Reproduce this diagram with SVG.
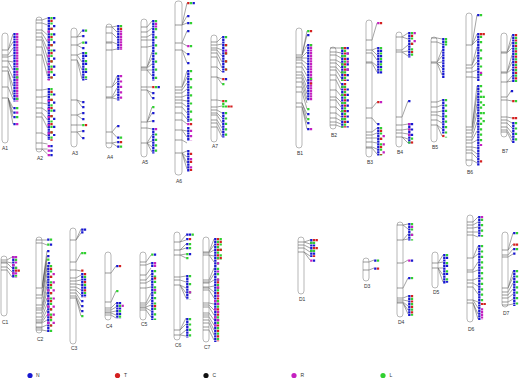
<svg xmlns="http://www.w3.org/2000/svg" width="520" height="379" viewBox="0 0 520 379">
<style>
.rod{fill:#fff;stroke:#9a9a9a;stroke-width:.7}
.bd{fill:none;stroke:#555;stroke-width:.6}
.cn{fill:none;stroke:#333;stroke-width:.45}
.m{fill:none;stroke-width:2.3;stroke-dasharray:2.2 .5}
.m2{fill:none;stroke-width:2.3;stroke-dasharray:2.2 3.2}
.m3{fill:none;stroke-width:2.3;stroke-dasharray:2.2 5.9}
.n{stroke:#1818d0}.t{stroke:#d42020}.r{stroke:#c420c0}.l{stroke:#30d030}
.lb{font-family:"Liberation Sans",Arial,sans-serif;font-size:5px;fill:#333}
.lg{font-family:"Liberation Sans",Arial,sans-serif;font-size:5px;fill:#333}
</style>
<rect width="520" height="379" fill="#fff"/>
<g id="connectors" class="cn">
<path d="M8 50 13 34M8 50 13 42M8 55 13 48M8 57 13 55M8 61 13 62M8 61 13 70M8 67 13 78M8 71 13 86M8 71 13 95M8 87 13 99M8 98 13 108M8 98 13 112.6M8 98 13 117M8 98 13 124"/>
<path d="M42 20 47.5 18M42 23 47.5 25M42 30 47.5 35M42 33 47.5 42M42 37 47.5 50M42 40 47.5 58M42 47 47.5 66M42 55 47.5 76M42 90 47.5 89M42 97 47.5 96M42 103 47.5 104M42 108 47.5 112M42 113 47.5 120M42 117 47.5 128M42 133 47.5 136M42 143 47.5 144M42 149 47.5 149M42 149 47.5 154"/>
<path d="M77 37 82 30.5M77 37 82 36M77 45 82 42.5M77 45 82 48M77 55 82 53M77 55 82 62M77 60 82 70M77 60 82 79M77 100 82 102M77 100 82 107M77 115 82 113M77 115 82 119M77 125 82 125M77 132 82 131M77 132 82 138"/>
<path d="M112 27 117 26M112 27 117 32M112 33 117 38M112 42 117 44M112 50 117 49M112 87 117 76M112 87 117 82M112 97 117 88M112 98 117 94M112 98 117 99M112 132 117 126M112 132 117 137.5M112 143 117 142M112 143 117 146.5"/>
<path d="M147 27 152 21M147 32 152 28M147 37 152 34M147 40 152 40M147 47 152 46M147 67 152 52M147 67 152 58M147 68 152 64M147 70 152 70M147 70 152 76M147 87 152 87M147 90 152 93M147 90 152 98M147 122 152 107M147 122 152 113M147 122 152 121M147 128 152 129M147 143 152 135M147 143 152 141M147 143 152 147M147 143 152 152"/>
<path d="M182 25 187 3M182 25 187 16M182 25 187 23M182 43 187 31M182 43 187 46M182 50 187 54M182 50 187 63M182 87 187 71M182 87 187 77M182 90 187 83M182 93 187 89M182 97 187 95M182 100 187 101M182 103 187 107M182 107 187 113M182 113 187 119M182 120 187 124M182 130 187 131M182 130 187 137M182 140 187 143M182 153 187 151M182 153 187 157M182 153 187 163M182 153 187 169"/>
<path d="M217 42 222 37M217 45 222 44M217 48 222 50M217 50 222 56M217 53 222 62M217 57 222 68M217 67 222 72M217 77 222 79M217 77 222 84M217 100 222 101M217 107 222 106M217 110 222 113M217 113 222 118M217 115 222 123M217 120 222 128M217 123 222 133M217 127 222 137"/>
<path d="M302 55 307 31M302 55 307 35M302 55 307 45M302 57 307 52M302 58 307 58M302 60 307 64M302 63 307 70M302 67 307 76M302 72 307 82M302 75 307 88M302 78 307 94M302 82 307 99M302 87 307 103M302 92 307 109M302 103 307 114M302 103 307 119M302 107 307 123M302 107 307 129"/>
<path d="M336 48 341 48M336 52 341 53M336 55 341 58M336 60 341 63M336 63 341 68M336 67 341 73M336 70 341 78M336 75 341 84M336 80 341 90M336 90 341 96M336 97 341 102M336 100 341 107M336 107 341 112M336 113 341 117M336 118 341 121M336 122 341 124M336 125 341 127"/>
<path d="M372 40 377 23M372 50 377 48M372 50 377 55M372 53 377 60M372 62 377 66M372 63 377 72M372 108 377 102M372 118 377 124M372 132 377 128M372 135 377 133M372 138 377 138M372 142 377 143M372 147 377 149M372 148 377 154"/>
<path d="M402 37 408 33M402 37 408 39M402 50 408 45M402 52 408 51M402 52 408 56M402 117 408 101M402 125 408 124M402 130 408 129M402 133 408 134M402 137 408 139M402 137 408 143"/>
<path d="M437 38 442 39M437 42 442 44M437 62 442 50M437 62 442 56M437 63 442 62M437 63 442 68M437 63 442 75M437 102 442 100M437 107 442 105M437 112 442 111M437 115 442 117M437 120 442 123M437 125 442 129M437 125 442 136"/>
<path d="M472 45 477 15M472 45 477 34M472 45 477 40M472 65 477 47M472 65 477 55M472 68 477 62M472 72 477 70M472 77 477 78M472 127 477 86M472 127 477 95M472 130 477 104M472 133 477 113M472 137 477 122M472 140 477 131M472 143 477 140M472 147 477 148M472 150 477 154M472 153 477 158M472 160 477 163"/>
<path d="M507 52 512 35M507 52 512 42M507 53 512 48M507 72 512 55M507 72 512 62M507 73 512 69M507 82 512 76M507 82 512 81M507 97 511 91M507 100 512 101M507 117 512 118M507 120 512 123M507 123 512 128M507 127 512 133M507 130 512 138M507 132 512 142"/>
<path d="M7 260 12 257M7 262 12 263M7 263 12 268M7 267 12 272M7 270 12 277"/>
<path d="M42 240 47 240M42 243 47 245M42 288 47 251M42 288 47 256M42 288 47 259M42 295 47 263M42 295 47 268M42 298 47 274M42 305 47 280M42 308 47 286M42 310 47 292M42 313 47 298M42 317 47 304M42 320 47 310M42 322 47 315M42 323 47 320M42 327 47 325M42 330 47 331"/>
<path d="M76 240 81 229M76 240 81 233M76 262 81 253M76 270 81 271M76 278 81 275M76 281 81 280M76 284 81 285M76 287 81 290M76 290 81 295M76 293 81 301M76 296 81 306M76 298 81 311M76 298 81 316"/>
<path d="M111 273 116 266M111 302 116 291M111 308 116 303M111 310 116 307M111 312 116 311M111 313 116 315M111 315 116 318"/>
<path d="M146 262 151 255M146 265 151 263M146 275 151 268M146 280 151 274M146 283 151 280M146 288 151 287M146 303 151 293M146 305 151 299M146 307 151 305M146 308 151 311M146 310 151 317"/>
<path d="M180 242 186 235M180 242 186 240M180 250 186 244M180 250 186 248M180 255 186 254M180 255 186 258M180 277 186 276M180 280 186 282M180 285 186 288M180 285 186 293M180 285 186 298M180 330 186 318M180 330 186 324M180 335 186 330M180 335 186 336"/>
<path d="M209 252 214 239M209 252 214 245M209 253 214 250M209 255 214 256M209 255 214 262M209 280 214 268M209 282 214 274M209 283 214 280M209 287 214 286M209 288 214 292M209 290 214 298M209 303 214 304M209 305 214 310M209 307 214 315M209 313 214 320M209 317 214 325M209 320 214 330M209 323 214 335M209 330 214 340"/>
<path d="M304 242 310 240M304 242 310 244M304 245 310 248M304 248 310 252M304 252 310 256M304 252 310 260"/>
<path d="M369 262 374 260M369 270 374 268"/>
<path d="M403 225 408 224M403 225 408 229M403 240 408 234M403 240 408 239M403 263 408 260M403 288 408 278M403 298 408 296M403 300 408 301M403 302 408 306M403 303 408 310M403 303 408 314"/>
<path d="M438 263 443 255M438 263 443 262M438 268 443 268M438 268 443 275M438 268 443 282"/>
<path d="M473 222 478 217M473 225 478 222M473 228 478 227M473 232 478 232M473 235 478 237M473 258 478 246M473 258 478 254M473 270 478 262M473 272 478 270M473 280 478 278M473 283 478 286M473 287 478 294M473 300 478 302M473 300 478 308M473 303 478 314M473 303 478 319"/>
<path d="M508 250 513 233M508 250 513 244M508 255 513 249M508 257 513 254M508 288 513 271M508 288 513 277M508 292 513 283M508 295 513 289M508 298 513 294M508 302 513 299M508 305 513 304"/>
</g>
<g id="A1"><rect class="rod" x="2" y="33" width="6" height="110" rx="3"/>
<path class="bd" d="M2 50h6M2 55h6M2 57h6M2 61h6M2 67h6M2 71h6M2 87h6M2 98h6"/>
<path class="m n" d="M14.5 33v68.5M14.5 107v2.2M14.5 111.5v2.2M14.5 116v2.2M14.5 123v2.2"/>
<path class="m r" d="M17.2 33v68.5M17.2 111.5v2.2M17.2 123v2.2"/>
<path class="m l" d="M17.2 68.1v2.2M17.2 76.2v2.2M17.2 97.8v2.2M17.2 107v2.2M17.2 116v2.2"/>
<text class="lb" x="2" y="150">A1</text></g>
<g id="A2"><rect class="rod" x="36" y="17" width="6" height="135" rx="3"/>
<path class="bd" d="M36 20h6M36 23h6M36 30h6M36 33h6M36 37h6M36 40h6M36 47h6M36 55h6M36 90h6M36 97h6M36 103h6M36 108h6M36 113h6M36 117h6M36 133h6M36 143h6M36 149h6"/>
<path class="m n" d="M48.8 17v63M48.8 88v52M51.5 145v2.2M51.5 149.5v2.2M51.5 154v2.2"/>
<path class="m3 r" d="M48.8 30.5v50M48.8 99.8v40"/>
<path class="m2 l" d="M51.5 17v63M51.5 88v52"/>
<path class="m3 t" d="M51.5 19.7v60M51.5 90.7v50"/>
<path class="m3 n" d="M54.2 17v63M54.2 93.4v45"/>
<path class="m r" d="M48.8 145v2.2M48.8 149.5v2.2M48.8 154v2.2"/>
<text class="lb" x="37" y="160">A2</text></g>
<g id="A3"><rect class="rod" x="71" y="28" width="6" height="119" rx="3"/>
<path class="bd" d="M71 37h6M71 45h6M71 55h6M71 60h6M71 100h6M71 115h6M71 125h6M71 132h6"/>
<path class="m n" d="M83.3 29.5v2.2M83.3 35v2.2M83.3 47v2.2M83.3 52v28.5M83.3 101v2.2M83.3 106v2.2M83.3 112v2.2M83.3 118v2.2M83.3 130v2.2M83.3 137v2.2M86 41.5v2.2"/>
<path class="m l" d="M86 29.5v2.2M83.3 41.5v2.2M83.3 124v2.2"/>
<path class="m3 l" d="M86 52v28.5"/>
<path class="m3 n" d="M86 54.7v25"/>
<path class="m t" d="M86 124v2.2"/>
<text class="lb" x="72" y="155">A3</text></g>
<g id="A4"><rect class="rod" x="106" y="24" width="6" height="124" rx="3"/>
<path class="bd" d="M106 27h6M106 33h6M106 42h6M106 43h6M106 50h6M106 87h6M106 97h6M106 98h6M106 132h6M106 143h6"/>
<path class="m n" d="M118.3 25v25M118.3 75v25.5M118.3 125v2.2M118.3 136.5v2.2M118.3 141v2.2M118.3 145.5v2.2"/>
<path class="m r" d="M121 30.4v19.5"/>
<path class="m l" d="M121 25v2.2M121 136.5v2.2M121 145.5v2.2"/>
<path class="m t" d="M121 27.7v2.2M121 141v2.2"/>
<path class="m2 r" d="M121 75v25.5"/>
<text class="lb" x="107" y="159">A4</text></g>
<g id="A5"><rect class="rod" x="141" y="19" width="6" height="138" rx="3"/>
<path class="bd" d="M141 27h6M141 32h6M141 37h6M141 40h6M141 47h6M141 67h6M141 68h6M141 70h6M141 87h6M141 90h6M141 122h6M141 128h6M141 143h6"/>
<path class="m n" d="M153.3 20v60.5M158.7 86v2.2M153.3 92v2.2M153.3 97v2.2M153.3 112v2.2M153.3 120v2.2M153.3 128v25.5"/>
<path class="m3 l" d="M156 20v60.5"/>
<path class="m r" d="M156 22.7v4.9M156 128v2.2"/>
<path class="m t" d="M153.3 86v2.2"/>
<path class="m l" d="M156 86v2.2M153.3 106v2.2"/>
<path class="m2 l" d="M156 133.4v20"/>
<text class="lb" x="142" y="164">A5</text></g>
<g id="A6"><rect class="rod" x="175" y="1" width="7" height="174" rx="3"/>
<path class="bd" d="M175 25h7M175 43h7M175 50h7M175 87h7M175 90h7M175 93h7M175 97h7M175 100h7M175 103h7M175 107h7M175 113h7M175 120h7M175 130h7M175 140h7M175 153h7"/>
<path class="m n" d="M193.7 2v2.2M188.3 15v2.2M188.3 22v2.2M188.3 30v2.2M188.3 53v2.2M188.3 62v2.2M188.3 70v52M188.3 127v14M188.3 150v22"/>
<path class="m t" d="M188.3 2v2.2M191 123v2.2"/>
<path class="m l" d="M191 2v2.2M191 22v2.2M191 45v2.2"/>
<path class="m r" d="M188.3 45v2.2M188.3 123v2.2"/>
<path class="m3 l" d="M191 70v52"/>
<path class="m2 r" d="M191 129.7v11"/>
<path class="m3 t" d="M191 152.7v20"/>
<path class="m3 r" d="M191 158.1v14"/>
<text class="lb" x="176" y="183">A6</text></g>
<g id="A7"><rect class="rod" x="211" y="35" width="6" height="107" rx="3"/>
<path class="bd" d="M211 42h6M211 45h6M211 48h6M211 50h6M211 53h6M211 57h6M211 67h6M211 77h6M211 100h6M211 107h6M211 110h6M211 113h6M211 115h6M211 120h6M211 123h6M211 127h6"/>
<path class="m n" d="M223.3 36v36.5M226 78v2.2M223.3 112v25.5"/>
<path class="m3 l" d="M226 36v36.5"/>
<path class="m3 t" d="M226 44.1v28"/>
<path class="m r" d="M226 49.5v2.2"/>
<path class="m t" d="M223.3 78v2.2M223.3 100v2.2M228.7 105.4v2.2M231.4 105.4v2.2"/>
<path class="m l" d="M223.3 83v2.2M226 100v2.2M223.3 102.7v5M226 105.4v2.2"/>
<path class="m2 l" d="M226 112v25.5"/>
<text class="lb" x="212" y="148">A7</text></g>
<g id="B1"><rect class="rod" x="296" y="28" width="6" height="120" rx="3"/>
<path class="bd" d="M296 55h6M296 57h6M296 58h6M296 60h6M296 63h6M296 67h6M296 72h6M296 75h6M296 78h6M296 82h6M296 87h6M296 92h6M296 103h6M296 107h6"/>
<path class="m n" d="M308.3 34v2.2M308.3 44v56.5M308.3 113v2.2M308.3 122v2.2M308.3 128v2.2"/>
<path class="m r" d="M311 44v56.5M311 128v2.2"/>
<path class="m l" d="M308.3 30v2.2M311 44v2.2M311 77.8v2.2M308.3 108v2.2M308.3 118v2.2"/>
<path class="m t" d="M311 30v2.2M311 82.4v2.2"/>
<text class="lb" x="297" y="155">B1</text></g>
<g id="B2"><rect class="rod" x="330" y="47" width="6" height="82" rx="3"/>
<path class="bd" d="M330 48h6M330 52h6M330 55h6M330 60h6M330 63h6M330 67h6M330 70h6M330 75h6M330 80h6M330 90h6M330 97h6M330 100h6M330 107h6M330 113h6M330 118h6M330 122h6M330 125h6"/>
<path class="m n" d="M342.3 47v34M342.3 83v44.5"/>
<path class="m3 l" d="M342.3 47v34M342.3 85.7v42"/>
<path class="m2 t" d="M345 47v34M345 83v44.5"/>
<path class="m2 l" d="M345 49.7v31M345 85.7v42"/>
<path class="m2 n" d="M347.7 47v34M347.7 88.4v39"/>
<path class="m3 r" d="M347.7 52.4v20"/>
<text class="lb" x="331" y="137">B2</text></g>
<g id="B3"><rect class="rod" x="366" y="20" width="6" height="137" rx="3"/>
<path class="bd" d="M366 40h6M366 50h6M366 53h6M366 62h6M366 63h6M366 108h6M366 118h6M366 132h6M366 135h6M366 138h6M366 142h6M366 147h6M366 148h6"/>
<path class="m r" d="M378.3 22v2.2M381 101v2.2"/>
<path class="m t" d="M381 22v2.2M378.3 101v2.2"/>
<path class="m n" d="M378.3 47v27M378.3 123v2.2M378.3 127v28.5"/>
<path class="m2 l" d="M381 47v27M381 127v28.5"/>
<path class="m2 n" d="M381 49.7v24"/>
<path class="m3 t" d="M381 129.7v25"/>
<path class="m3 r" d="M383.7 135.1v20"/>
<text class="lb" x="367" y="164">B3</text></g>
<g id="B4"><rect class="rod" x="396" y="32" width="6" height="115" rx="3"/>
<path class="bd" d="M396 37h6M396 50h6M396 52h6M396 117h6M396 125h6M396 130h6M396 133h6M396 137h6"/>
<path class="m n" d="M409.3 32v25.5M409.3 100v2.2M409.3 123v20.5"/>
<path class="m2 l" d="M412 32v25.5"/>
<path class="m3 t" d="M412 34.7v22"/>
<path class="m3 r" d="M414.7 32v12"/>
<path class="m2 r" d="M409.3 123v16"/>
<path class="m2 n" d="M412 123v16"/>
<path class="m l" d="M409.3 141.4v2.2M412 137.5v2.2"/>
<path class="m t" d="M412 141.4v2.2"/>
<text class="lb" x="397" y="154">B4</text></g>
<g id="B5"><rect class="rod" x="431" y="37" width="6" height="105" rx="3"/>
<path class="bd" d="M431 38h6M431 42h6M431 62h6M431 63h6M431 102h6M431 107h6M431 112h6M431 115h6M431 120h6M431 125h6"/>
<path class="m n" d="M443.3 38v40.5M443.3 99v35"/>
<path class="m l" d="M446 38v7.5"/>
<path class="m2 l" d="M446 99v38.5"/>
<path class="m t" d="M443.3 134.9v2.2"/>
<text class="lb" x="432" y="149">B5</text></g>
<g id="B6"><rect class="rod" x="466" y="13" width="6" height="153" rx="3"/>
<path class="bd" d="M466 45h6M466 65h6M466 68h6M466 72h6M466 77h6M466 127h6M466 130h6M466 133h6M466 137h6M466 140h6M466 143h6M466 147h6M466 150h6M466 153h6M466 160h6"/>
<path class="m n" d="M478.3 14v2.2M478.3 33v48M478.3 85v81"/>
<path class="m l" d="M481 14v2.2M481 35.7v2.2"/>
<path class="m t" d="M481 33v2.2M483.7 33v2.2M481 160.2v2.2"/>
<path class="m3 l" d="M481 41.1v38"/>
<path class="m r" d="M481 71.7v2.2M481 143.9v2.2"/>
<path class="m2 l" d="M481 85v58"/>
<path class="m3 l" d="M483.7 95.8v30"/>
<text class="lb" x="467" y="174">B6</text></g>
<g id="B7"><rect class="rod" x="501" y="33" width="6" height="104" rx="3"/>
<path class="bd" d="M501 52h6M501 53h6M501 72h6M501 73h6M501 82h6M501 97h6M501 100h6M501 117h6M501 120h6M501 123h6M501 127h6M501 130h6M501 132h6"/>
<path class="m n" d="M513.3 34v48.5M512 90v2.2M513.3 122v21.5"/>
<path class="m2 t" d="M516 34v48.5"/>
<path class="m2 l" d="M516 36.7v46M516 100v2.2M516 122v21.5"/>
<path class="m t" d="M513.3 100v2.2M513.3 117v2.2M516 117v2.2"/>
<text class="lb" x="502" y="153">B7</text></g>
<g id="C1"><rect class="rod" x="1" y="256" width="6" height="60" rx="3"/>
<path class="bd" d="M1 260h6M1 262h6M1 263h6M1 267h6M1 270h6"/>
<path class="m n" d="M13.3 256v22"/>
<path class="m3 r" d="M13.3 256v22"/>
<path class="m2 r" d="M16 256v22"/>
<path class="m3 l" d="M16 258.7v18"/>
<path class="m t" d="M16 269.5v2.2M18.7 269.5v2.2"/>
<text class="lb" x="2" y="324">C1</text></g>
<g id="C2"><rect class="rod" x="36" y="237" width="6" height="96" rx="3"/>
<path class="bd" d="M36 240h6M36 243h6M36 288h6M36 295h6M36 298h6M36 305h6M36 308h6M36 310h6M36 313h6M36 317h6M36 320h6M36 322h6M36 323h6M36 327h6M36 328h6M36 330h6"/>
<path class="m n" d="M48.3 238.5v2.2M51 243.5v2.2M48.3 250v2.2M48.3 255v2.2M49 262v2.2M48.3 265v67.5"/>
<path class="m l" d="M51 238.5v2.2M48.3 243.5v2.2M48.3 258.5v2.2"/>
<path class="m2 l" d="M51 265v67.5"/>
<path class="m3 t" d="M51 267.7v64"/>
<path class="m3 r" d="M53.7 273.1v55M48.3 289.3v40"/>
<text class="lb" x="37" y="341">C2</text></g>
<g id="C3"><rect class="rod" x="70" y="228" width="6" height="116" rx="3"/>
<path class="bd" d="M70 240h6M70 262h6M70 270h6M70 278h6M70 281h6M70 284h6M70 287h6M70 290h6M70 293h6M70 296h6M70 298h6"/>
<path class="m n" d="M82.3 228.5v5M85 228.5v2.2M82.3 273v24.5M82.3 300v2.2M82.3 305v2.2M82.3 310v2.2"/>
<path class="m l" d="M82.3 252v2.2M85 252v2.2M82.3 315v2.2"/>
<path class="m t" d="M82.3 269.5v2.2"/>
<path class="m3 t" d="M85 273v24.5"/>
<path class="m3 l" d="M85 275.7v22"/>
<path class="m3 n" d="M85 278.4v18"/>
<text class="lb" x="71" y="350">C3</text></g>
<g id="C4"><rect class="rod" x="105" y="252" width="6" height="68" rx="3"/>
<path class="bd" d="M105 273h6M105 302h6M105 308h6M105 310h6M105 312h6M105 313h6M105 315h6"/>
<path class="m n" d="M117.3 265v2.2M117.3 302v16.5"/>
<path class="m t" d="M120 265v2.2"/>
<path class="m l" d="M117.3 290v2.2"/>
<path class="m2 n" d="M120 302v16.5"/>
<path class="m2 l" d="M120 304.7v14"/>
<path class="m r" d="M122.7 304.7v2.2"/>
<text class="lb" x="106" y="328">C4</text></g>
<g id="C5"><rect class="rod" x="140" y="252" width="6" height="68" rx="3"/>
<path class="bd" d="M140 262h6M140 265h6M140 275h6M140 280h6M140 283h6M140 288h6M140 303h6M140 305h6M140 307h6M140 308h6M140 310h6"/>
<path class="m l" d="M152.3 253.5v2.2"/>
<path class="m n" d="M155 253.5v2.2M152.3 262v5M152.3 270v50"/>
<path class="m r" d="M155 262v5M155 289v2.2"/>
<path class="m2 l" d="M155 270v50"/>
<path class="m t" d="M155 277.3v2.2M155 305.1v2.2"/>
<text class="lb" x="141" y="326">C5</text></g>
<g id="C6"><rect class="rod" x="174" y="232" width="6" height="108" rx="3"/>
<path class="bd" d="M174 242h6M174 250h6M174 255h6M174 277h6M174 280h6M174 285h6M174 330h6M174 335h6"/>
<path class="m n" d="M187.3 233.5v2.2M190 233.5v2.2M187.3 238v2.2M187.3 243v2.2M187.3 247v2.2M190 253v2.2M187.3 275v24.5M187.3 318v19.5"/>
<path class="m l" d="M192.7 233.5v2.2M190 243v2.2M190 247v2.2M187.3 253v2.2M187.3 257v2.2"/>
<path class="m t" d="M190 238v2.2"/>
<path class="m3 l" d="M190 275v24.5"/>
<path class="m r" d="M190 291.2v2.2"/>
<path class="m2 l" d="M190 318v19.5"/>
<text class="lb" x="175" y="347">C6</text></g>
<g id="C7"><rect class="rod" x="203" y="237" width="6" height="105" rx="3"/>
<path class="bd" d="M203 252h6M203 253h6M203 255h6M203 280h6M203 282h6M203 283h6M203 287h6M203 288h6M203 290h6M203 303h6M203 305h6M203 307h6M203 313h6M203 315h6M203 317h6M203 320h6M203 323h6M203 327h6M203 330h6"/>
<path class="m n" d="M215.3 238v104"/>
<path class="m2 t" d="M218 238v22M218 281.2v60"/>
<path class="m2 l" d="M218 240.7v100"/>
<path class="m3 r" d="M218 262.3v60M215.3 300.1v30"/>
<path class="m2 l" d="M220.7 238v22"/>
<path class="m3 t" d="M220.7 240.7v20"/>
<text class="lb" x="204" y="349">C7</text></g>
<g id="D1"><rect class="rod" x="298" y="237" width="6" height="57" rx="3"/>
<path class="bd" d="M298 242h6M298 245h6M298 248h6M298 252h6"/>
<path class="m n" d="M311.3 239v18M314 259.5v2.2"/>
<path class="m3 l" d="M311.3 241.7v15"/>
<path class="m3 t" d="M314 239v18"/>
<path class="m3 l" d="M314 241.7v15"/>
<path class="m3 n" d="M314 244.4v12"/>
<path class="m t" d="M316.7 239v2.2M316.7 247.1v2.2"/>
<path class="m r" d="M311.3 259.5v2.2"/>
<text class="lb" x="299" y="301">D1</text></g>
<g id="D3"><rect class="rod" x="363" y="258" width="6" height="23" rx="3"/>
<path class="bd" d="M363 262h6M363 270h6"/>
<path class="m n" d="M375.3 259.5v2.2M375.3 267.5v2.2"/>
<path class="m l" d="M378 259.5v2.2"/>
<path class="m t" d="M378 267.5v2.2"/>
<text class="lb" x="364" y="288">D3</text></g>
<g id="D4"><rect class="rod" x="397" y="222" width="6" height="95" rx="3"/>
<path class="bd" d="M397 225h6M397 240h6M397 263h6M397 288h6M397 298h6M397 300h6M397 302h6M397 303h6"/>
<path class="m n" d="M409.3 223v17.5M412 259.5v2.2M409.3 277v2.2M409.3 295v21"/>
<path class="m2 l" d="M412 223v17.5"/>
<path class="m3 r" d="M412 225.7v14"/>
<path class="m r" d="M409.3 259.5v2.2"/>
<path class="m l" d="M412 277v2.2"/>
<path class="m2 t" d="M412 295v21"/>
<path class="m2 l" d="M412 297.7v18"/>
<text class="lb" x="398" y="324">D4</text></g>
<g id="D5"><rect class="rod" x="432" y="252" width="6" height="36" rx="3"/>
<path class="bd" d="M432 263h6M432 268h6"/>
<path class="m n" d="M444.3 254v30"/>
<path class="m3 l" d="M447 254v30"/>
<path class="m3 n" d="M447 256.7v26"/>
<text class="lb" x="433" y="294">D5</text></g>
<g id="D6"><rect class="rod" x="467" y="215" width="6" height="107" rx="3"/>
<path class="bd" d="M467 222h6M467 225h6M467 228h6M467 232h6M467 235h6M467 258h6M467 270h6M467 272h6M467 280h6M467 283h6M467 287h6M467 300h6M467 303h6"/>
<path class="m n" d="M479.3 216v20.5M479.3 245v75.5"/>
<path class="m r" d="M482 216v2.2M482 308.3v11"/>
<path class="m2 l" d="M482 218.7v18M482 245v60"/>
<path class="m t" d="M482 302.9v2.2M484.7 302.9v2.2"/>
<text class="lb" x="468" y="331">D6</text></g>
<g id="D7"><rect class="rod" x="502" y="232" width="6" height="75" rx="3"/>
<path class="bd" d="M502 250h6M502 255h6M502 257h6M502 288h6M502 292h6M502 295h6M502 298h6M502 302h6M502 305h6"/>
<path class="m n" d="M514.3 232v2.2M514.3 248v2.2M514.3 252.5v2.2M514.3 270v36"/>
<path class="m l" d="M517 232v2.2M517 248v2.2"/>
<path class="m t" d="M514.3 243.5v2.2M517 243.5v2.2"/>
<path class="m2 l" d="M517 270v36"/>
<text class="lb" x="503" y="315">D7</text></g>
<g id="legend">
<circle cx="30" cy="375.5" r="2.6" fill="#1818d0"/><text class="lg" x="36" y="377.3">N</text>
<circle cx="117.5" cy="375.5" r="2.6" fill="#d42020"/><text class="lg" x="124" y="377.3">T</text>
<circle cx="206" cy="375.5" r="2.6" fill="#111"/><text class="lg" x="212.5" y="377.3">C</text>
<circle cx="294" cy="375.5" r="2.6" fill="#c420c0"/><text class="lg" x="300.5" y="377.3">R</text>
<circle cx="383" cy="375.5" r="2.6" fill="#30d030"/><text class="lg" x="389.5" y="377.3">L</text>
</g>
</svg>
